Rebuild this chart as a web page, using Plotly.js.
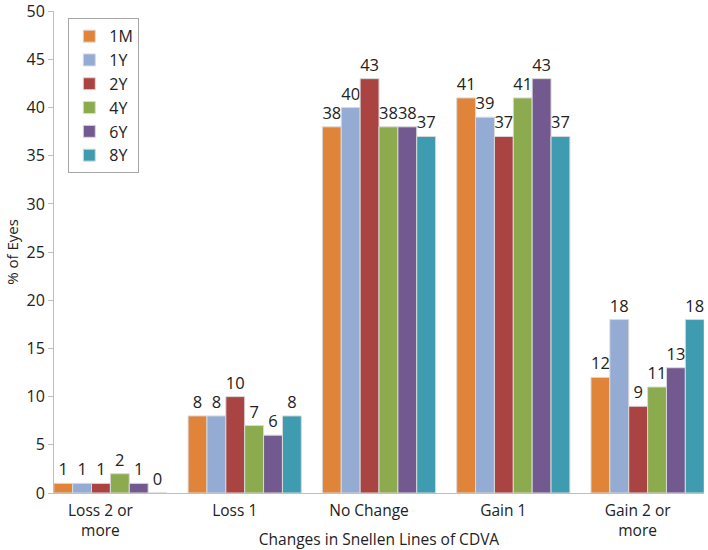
<!DOCTYPE html>
<html><head><meta charset="utf-8">
<script src="https://cdn.plot.ly/plotly-3.0.1.min.js"></script>
<style>html,body{margin:0;padding:0;background:#fff}#chart{width:708px;height:550px}</style>
</head><body><div id="chart"></div>
<script>
const categories = ["Loss 2 or<br>more", "Loss 1", "No Change", "Gain 1", "Gain 2 or<br>more"];
const seriesNames = ["1M", "1Y", "2Y", "4Y", "6Y", "8Y"];
const v1M = [1, 8, 38, 41, 12];
const v1Y = [1, 8, 40, 39, 18];
const v2Y = [1, 10, 43, 37, 9];
const v4Y = [2, 7, 38, 41, 11];
const v6Y = [1, 6, 38, 43, 13];
const v8Y = [0, 8, 37, 37, 18];
const yTicks = [0, 5, 10, 15, 20, 25, 30, 35, 40, 45, 50];
const colors = ["#E0843A", "#94ABD4", "#A94442", "#8CAA4E", "#72598F", "#3F9BB0"];
const allValues = [v1M, v1Y, v2Y, v4Y, v6Y, v8Y];

const font = "Open Sans, Lato, sans-serif";
const traces = allValues.map((vals, i) => ({
  type: "bar",
  name: seriesNames[i],
  x: categories,
  y: vals,
  text: vals.map(String),
  textposition: "outside",
  cliponaxis: false,
  textfont: {family: font, size: 16.5, color: "#222"},
  marker: {color: colors[i], line: {color: "#d9d9d9", width: 1}},
  hoverinfo: "none"
}));

const layout = {
  width: 708, height: 550,
  margin: {l: 54, r: 4, t: 11, b: 57},
  paper_bgcolor: "#fff", plot_bgcolor: "#fff",
  barmode: "group",
  bargap: 0.157,
  bargroupgap: 0.0,
  font: {family: font, color: "#222"},
  xaxis: {
    type: "category",
    range: [-0.42, 4.42],
    showline: true, linecolor: "#bfbfbf", linewidth: 1,
    ticks: "", showgrid: false, zeroline: false,
    tickfont: {family: font, size: 15.5, color: "#222"},
    ticklabelshift: -10,
    ticklabelstandoff: 3,
    title: {text: "Changes in Snellen Lines of CDVA", font: {family: font, size: 15.5, color: "#222"}, standoff: 0}
  },
  yaxis: {
    range: [0, 50.02],
    tickmode: "array", tickvals: yTicks, ticktext: yTicks.map(String),
    showline: true, linecolor: "#bfbfbf", linewidth: 1,
    ticks: "outside", ticklen: 5, tickcolor: "#bfbfbf",
    showgrid: false, zeroline: false,
    ticklabeloverflow: "allow",
    tickfont: {family: font, size: 16, color: "#222"},
    title: {text: "% of Eyes", font: {family: font, size: 15, color: "#222"}, standoff: 4}
  },
  showlegend: true,
  legend: {
    x: 0.022, y: 0.985, xanchor: "left", yanchor: "top",
    bordercolor: "#a6a6a6", borderwidth: 1, bgcolor: "#fff",
    font: {family: font, size: 16, color: "#222"},
    tracegroupgap: 0, itemwidth: 30
  }
};

Plotly.newPlot("chart", traces, layout, {displayModeBar: false, staticPlot: true});
</script></body></html>
